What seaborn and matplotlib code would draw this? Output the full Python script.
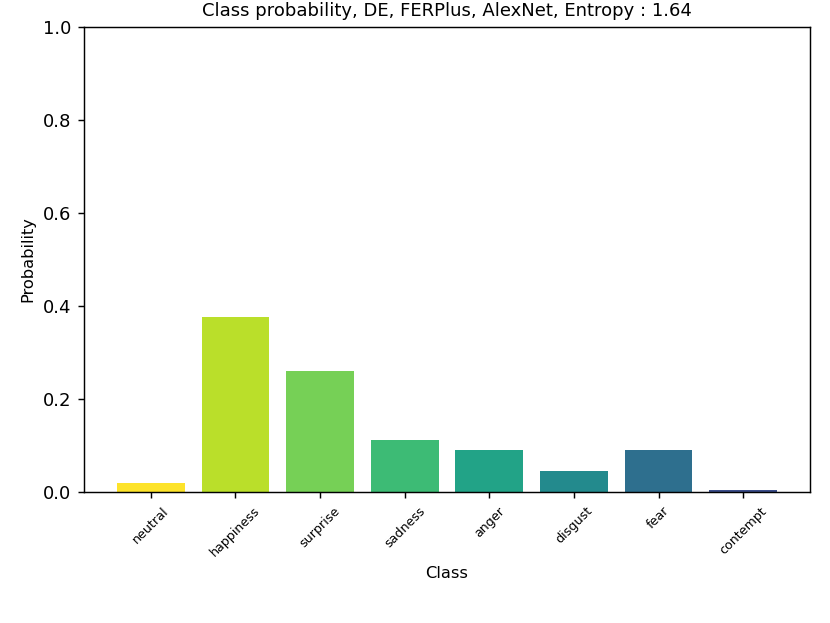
import matplotlib
matplotlib.use("Agg")
import matplotlib.pyplot as plt
import seaborn as sns
import pandas as pd

categories = ["neutral", "happiness", "surprise", "sadness", "anger", "disgust", "fear", "contempt"]
probabilities = [0.0194, 0.3757, 0.260, 0.1105, 0.0903, 0.0445, 0.089, 0.003]
colors = ["#FDE32A", "#BADF2A", "#76D056", "#3DBB75", "#22A387", "#238A8D", "#2E6F8E", "#3B4D8A"]
title = "Class probability, DE, FERPlus, AlexNet, Entropy : 1.64"

df = pd.DataFrame({"Class": categories, "Probability": probabilities})

fig = plt.figure(figsize=(830 / 130, 623 / 130), dpi=130)
ax = fig.add_axes([84 / 830, 1 - 491.7 / 623, (810 - 84) / 830, (491.7 - 27) / 623])
sns.barplot(data=df, x="Class", y="Probability", hue="Class", palette=colors,
            saturation=1, legend=False, width=0.8, linewidth=0, ax=ax)
ax.set_xlim(-0.79, 7.79)
ax.set_ylim(0, 1.0)
ax.set_yticks([0.0, 0.2, 0.4, 0.6, 0.8, 1.0])
ax.tick_params(axis="x", labelsize=7)
plt.setp(ax.get_xticklabels(), rotation=45)
ax.set_xlabel("Class", fontsize=9)
ax.set_ylabel("Probability", fontsize=9)
ax.set_title(title, fontsize=10)
fig.savefig("out.png", dpi=130)
